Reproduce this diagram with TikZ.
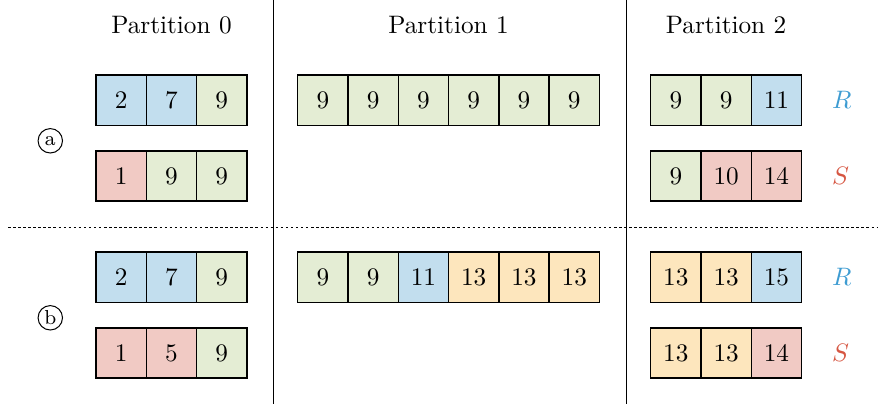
\documentclass[tikz,border=0pt]{standalone}
\usepackage{amsmath}
\usepackage{tikz}
\usetikzlibrary{positioning}

\definecolor{cblue}{RGB}{194,222,238}
\definecolor{cgreen}{RGB}{228,237,212}
\definecolor{cred}{RGB}{241,202,196}
\definecolor{corange}{RGB}{253,230,189}
\definecolor{rcol}{RGB}{62,156,210}
\definecolor{scol}{RGB}{214,86,66}

% one row of cells: name, left x, top y, value/colour list
\newcommand{\cellrow}[4]{%
  \foreach \v/\c [count=\i from 0] in {#4}
    \node[cell, fill=\c, anchor=north west] (#1-\i) at ({#2+\i},#3) {\v};
}

\begin{document}
\begin{tikzpicture}[x=0.7cm, y=-0.7cm,
cell/.style={draw, line width=0.55pt, minimum size=0.7cm, inner sep=0pt, outer sep=0pt},
title/.style={font=\normalsize},
tag/.style={draw, circle, minimum size=0.34cm, inner sep=0pt, font=\footnotesize},
rel/.style={font=\normalsize}
]
\useasboundingbox (0,0) rectangle (17.52,8.05);

% partition separators
\draw (5.43,0) -- (5.43,8.03);
\draw (12.45,0) -- (12.45,8.03);
\draw[dash pattern=on 1pt off 1pt] (0.16,4.53) -- (17.46,4.53);

\node[title] (p0) at (3.41,0.5) {Partition 0};
\node[title] (p1) at (8.92,0.5) {Partition 1};
\node[title] (p2) at (14.44,0.5) {Partition 2};

% case (a)
\cellrow{aR0}{1.91}{1.49}{2/cblue,7/cblue,9/cgreen}
\cellrow{aS0}{1.91}{3.0}{1/cred,9/cgreen,9/cgreen}
\cellrow{aR1}{5.92}{1.49}{9/cgreen,9/cgreen,9/cgreen,9/cgreen,9/cgreen,9/cgreen}
\cellrow{aR2}{12.94}{1.49}{9/cgreen,9/cgreen,11/cblue}
\cellrow{aS2}{12.94}{3.0}{9/cgreen,10/cred,14/cred}

% case (b)
\cellrow{bR0}{1.91}{5.01}{2/cblue,7/cblue,9/cgreen}
\cellrow{bS0}{1.91}{6.52}{1/cred,5/cred,9/cgreen}
\cellrow{bR1}{5.92}{5.01}{9/cgreen,9/cgreen,11/cblue,13/corange,13/corange,13/corange}
\cellrow{bR2}{12.94}{5.01}{13/corange,13/corange,15/cblue}
\cellrow{bS2}{12.94}{6.52}{13/corange,13/corange,14/cred}

\node[tag] (ta) at (1.0,2.8) {a};
\node[tag] (tb) at (1.0,6.32) {b};

\node[rel, text=rcol, right=0.3cm of aR2-2] (ra) {$R$};
\node[rel, text=scol, right=0.3cm of aS2-2] (sa) {$S$};
\node[rel, text=rcol, right=0.3cm of bR2-2] (rb) {$R$};
\node[rel, text=scol, right=0.3cm of bS2-2] (sb) {$S$};
\end{tikzpicture}
\end{document}
